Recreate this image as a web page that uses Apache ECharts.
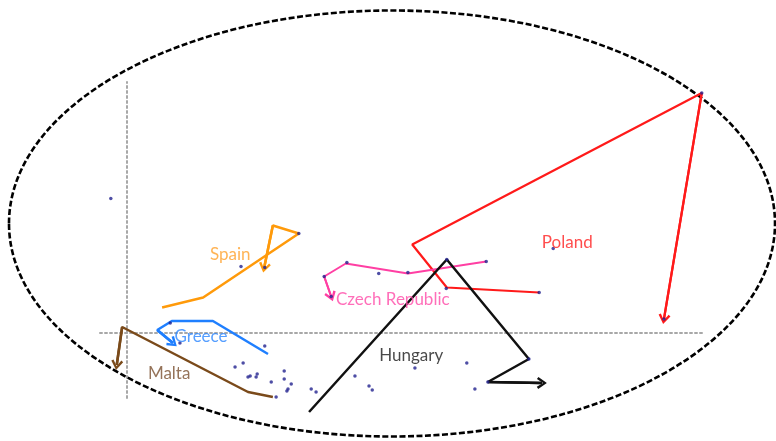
<!DOCTYPE html>
<html>
<head>
<meta charset="utf-8">
<script src="https://cdn.jsdelivr.net/npm/echarts@6/dist/echarts.min.js"></script>
<style>
html,body{margin:0;padding:0;background:#fff;}
#chart{width:776px;height:441px;}
</style>
</head>
<body>
<div id="chart"></div>
<script>
// Country trajectories (data units), in time order; last segment ends with an arrow
const countries = ['Poland', 'Czech Republic', 'Hungary', 'Spain', 'Greece', 'Malta'];
const polandX = [7.63, 5.92, 5.28, 10.64, 9.94];
const polandY = [0.81, 0.91, 1.77, 4.80, 0.28];
const czechX = [6.65, 5.20, 4.05, 3.65, 3.78];
const czechY = [1.43, 1.19, 1.39, 1.13, 0.73];
const hungaryX = [3.37, 5.92, 7.44, 6.68, 7.68];
const hungaryY = [-1.58, 1.47, -0.52, -0.98, -1.00];
const spainX = [0.65, 1.41, 3.18, 2.70, 2.54];
const spainY = [0.51, 0.71, 1.99, 2.15, 1.31];
const greeceX = [2.61, 1.59, 0.83, 0.56, 0.85];
const greeceY = [-0.42, 0.24, 0.24, 0.06, -0.20];
const maltaX = [2.70, 2.24, -0.09, -0.19];
const maltaY = [-1.28, -1.18, 0.12, -0.64];

// Country label anchor points
const labelX = [8.15, 4.92, 5.26, 1.91, 1.37, 0.78];
const labelY = [1.81, 0.67, -0.46, 1.57, -0.08, -0.82];

// Scatter points (all observations)
const dotX = [-0.30, 0.80, 0.98, 2.55, 2.00, 2.15, 2.24, 2.28, 2.39, 2.41, 2.67, 2.91, 2.91, 3.04, 2.98, 2.96, 3.41, 3.50, 2.76, 4.22, 4.48, 4.54, 5.33, 6.29, 6.44, 6.68, 7.44, 5.92, 6.65, 5.20, 4.66, 4.07, 3.65, 3.78, 5.91, 7.63, 7.89, 10.64, 9.94, 2.11, 2.55, 3.18];
const dotY = [2.69, 0.20, -0.20, -0.26, -0.68, -0.60, -0.88, -0.86, -0.88, -0.82, -0.98, -0.76, -0.92, -1.02, -1.12, -1.16, -1.12, -1.18, -1.28, -0.86, -1.06, -1.14, -0.70, -0.60, -1.12, -0.98, -0.52, 1.47, 1.43, 1.21, 1.19, 1.41, 1.13, 0.73, 0.89, 0.81, 1.69, 4.80, 0.28, 1.33, 1.31, 1.99];

const lineColors = ['#ff1a1a', '#ff3fa3', '#111111', '#ff9a0a', '#1f7fff', '#7a4a1a'];
const labelColors = ['#ff2020', '#ff4aa8', '#1a1a1a', '#ffa02a', '#2a86ff', '#7a5030'];
const lineWidths = [2.2, 2, 2.5, 2.5, 2.5, 2.5];
const tracks = [[polandX, polandY], [czechX, czechY], [hungaryX, hungaryY], [spainX, spainY], [greeceX, greeceY], [maltaX, maltaY]];

const chevron = 'path://M5,0 L10,7.2 L8.3,8.4 L5,3.2 L1.7,8.4 L0,7.2 Z';

const zip = (xs, ys) => xs.map((x, i) => [x, ys[i]]);

const series = [];
tracks.forEach(([xs, ys], k) => {
  const pts = zip(xs, ys);
  const n = pts.length;
  series.push({
    name: countries[k],
    type: 'line',
    data: pts,
    showSymbol: false,
    symbol: 'none',
    clip: false,
    silent: true,
    lineStyle: { color: lineColors[k], width: lineWidths[k] },
    z: 3,
    markLine: {
      silent: true,
      animation: false,
      symbol: ['none', chevron],
      symbolSize: [12, 10],
      label: { show: false },
      lineStyle: { color: lineColors[k], width: lineWidths[k], type: 'solid' },
      data: [[{ coord: pts[n - 2] }, { coord: pts[n - 1] }]]
    }
  });
});

series.push({
  type: 'scatter',
  data: zip(dotX, dotY),
  symbol: 'circle',
  symbolSize: 3.5,
  itemStyle: { color: '#22228f' },
  clip: false,
  silent: true,
  z: 5
});

series.push({
  type: 'scatter',
  data: labelX.map((x, i) => ({
    value: [x, labelY[i]],
    label: { color: labelColors[i] }
  })),
  symbolSize: 1,
  itemStyle: { color: 'rgba(0,0,0,0)' },
  silent: true,
  z: 6,
  label: {
    show: true,
    position: 'inside',
    fontFamily: 'Lato',
    fontSize: 17,
    formatter: p => countries[p.dataIndex]
  }
});

const chart = echarts.init(document.getElementById('chart'), null, { renderer: 'canvas' });
chart.setOption({
  animation: false,
  backgroundColor: '#ffffff',
  grid: { left: 100, right: 71, top: 82, bottom: 43, containLabel: false },
  xAxis: {
    type: 'value', min: -0.5, max: 10.7,
    axisLine: { show: true, onZero: true, lineStyle: { color: '#a8a8a8', width: 2, type: [2, 3] } },
    axisTick: { show: false }, axisLabel: { show: false }, splitLine: { show: false }
  },
  yAxis: {
    type: 'value', min: -1.3, max: 5.02,
    axisLine: { show: true, onZero: true, lineStyle: { color: '#a8a8a8', width: 2, type: [2, 3] } },
    axisTick: { show: false }, axisLabel: { show: false }, splitLine: { show: false }
  },
  graphic: [{
    type: 'ellipse',
    z: 1,
    silent: true,
    shape: { cx: 392, cy: 223.5, rx: 383, ry: 213 },
    style: { fill: 'none', stroke: '#000', lineWidth: 2.6, lineDash: [6, 2.5] }
  }],
  series: series
});
</script>
</body>
</html>
